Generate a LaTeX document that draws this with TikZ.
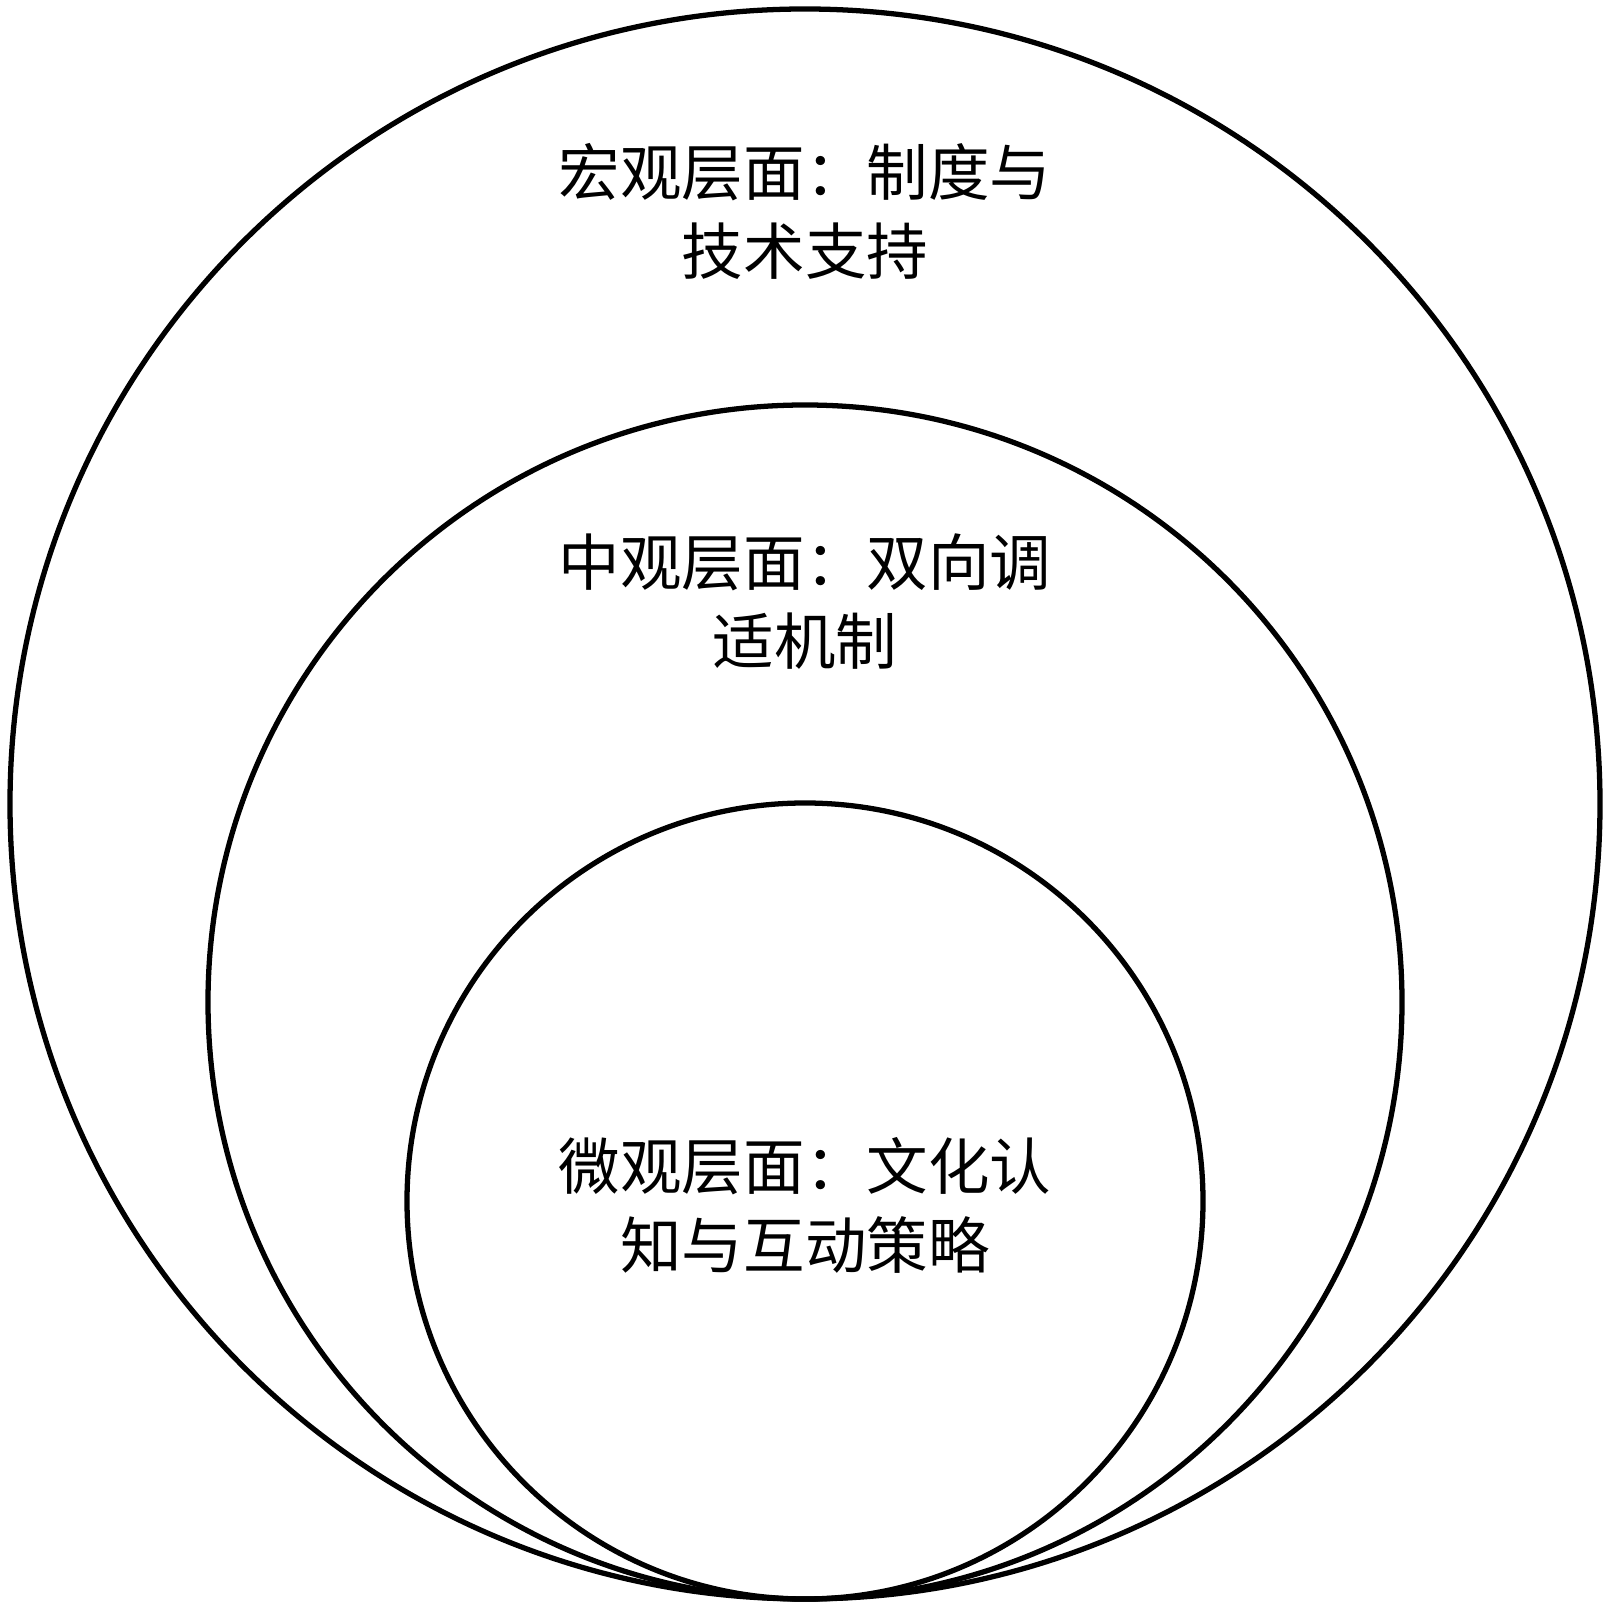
\documentclass[tikz,border=0pt]{standalone}
\usepackage{fontspec}
\newfontfamily\cjk{Noto Sans CJK SC}
\usetikzlibrary{positioning}

\begin{document}
\begin{tikzpicture}[
        ring/.style={circle, draw=black, line width=1.5pt, inner sep=0pt, fill=none},
        level/.style={align=center, font=\cjk\fontsize{17.5pt}{22.5pt}\selectfont, inner sep=2pt}
    ]
        \useasboundingbox (0,0) rectangle (16.09,16.10);

        % Nested circles, all touching at the bottom
        \node[ring, minimum size=15.90cm] (outer) at (8.05, 8.06) {};
        \node[ring, minimum size=11.94cm] (middle) at (8.05, 6.08) {};
        \node[ring, minimum size=7.96cm] (inner) at (8.05, 4.09) {};

        % Level labels
        \node[level] (macro) at (8.05, 13.99) {宏观层面：制度与\\技术支持};
        \node[level] (meso) at (8.05, 10.08) {中观层面：双向调\\适机制};
        \node[level] (micro) at (8.05, 4.05) {微观层面：文化认\\知与互动策略};
    \end{tikzpicture}
\end{document}
